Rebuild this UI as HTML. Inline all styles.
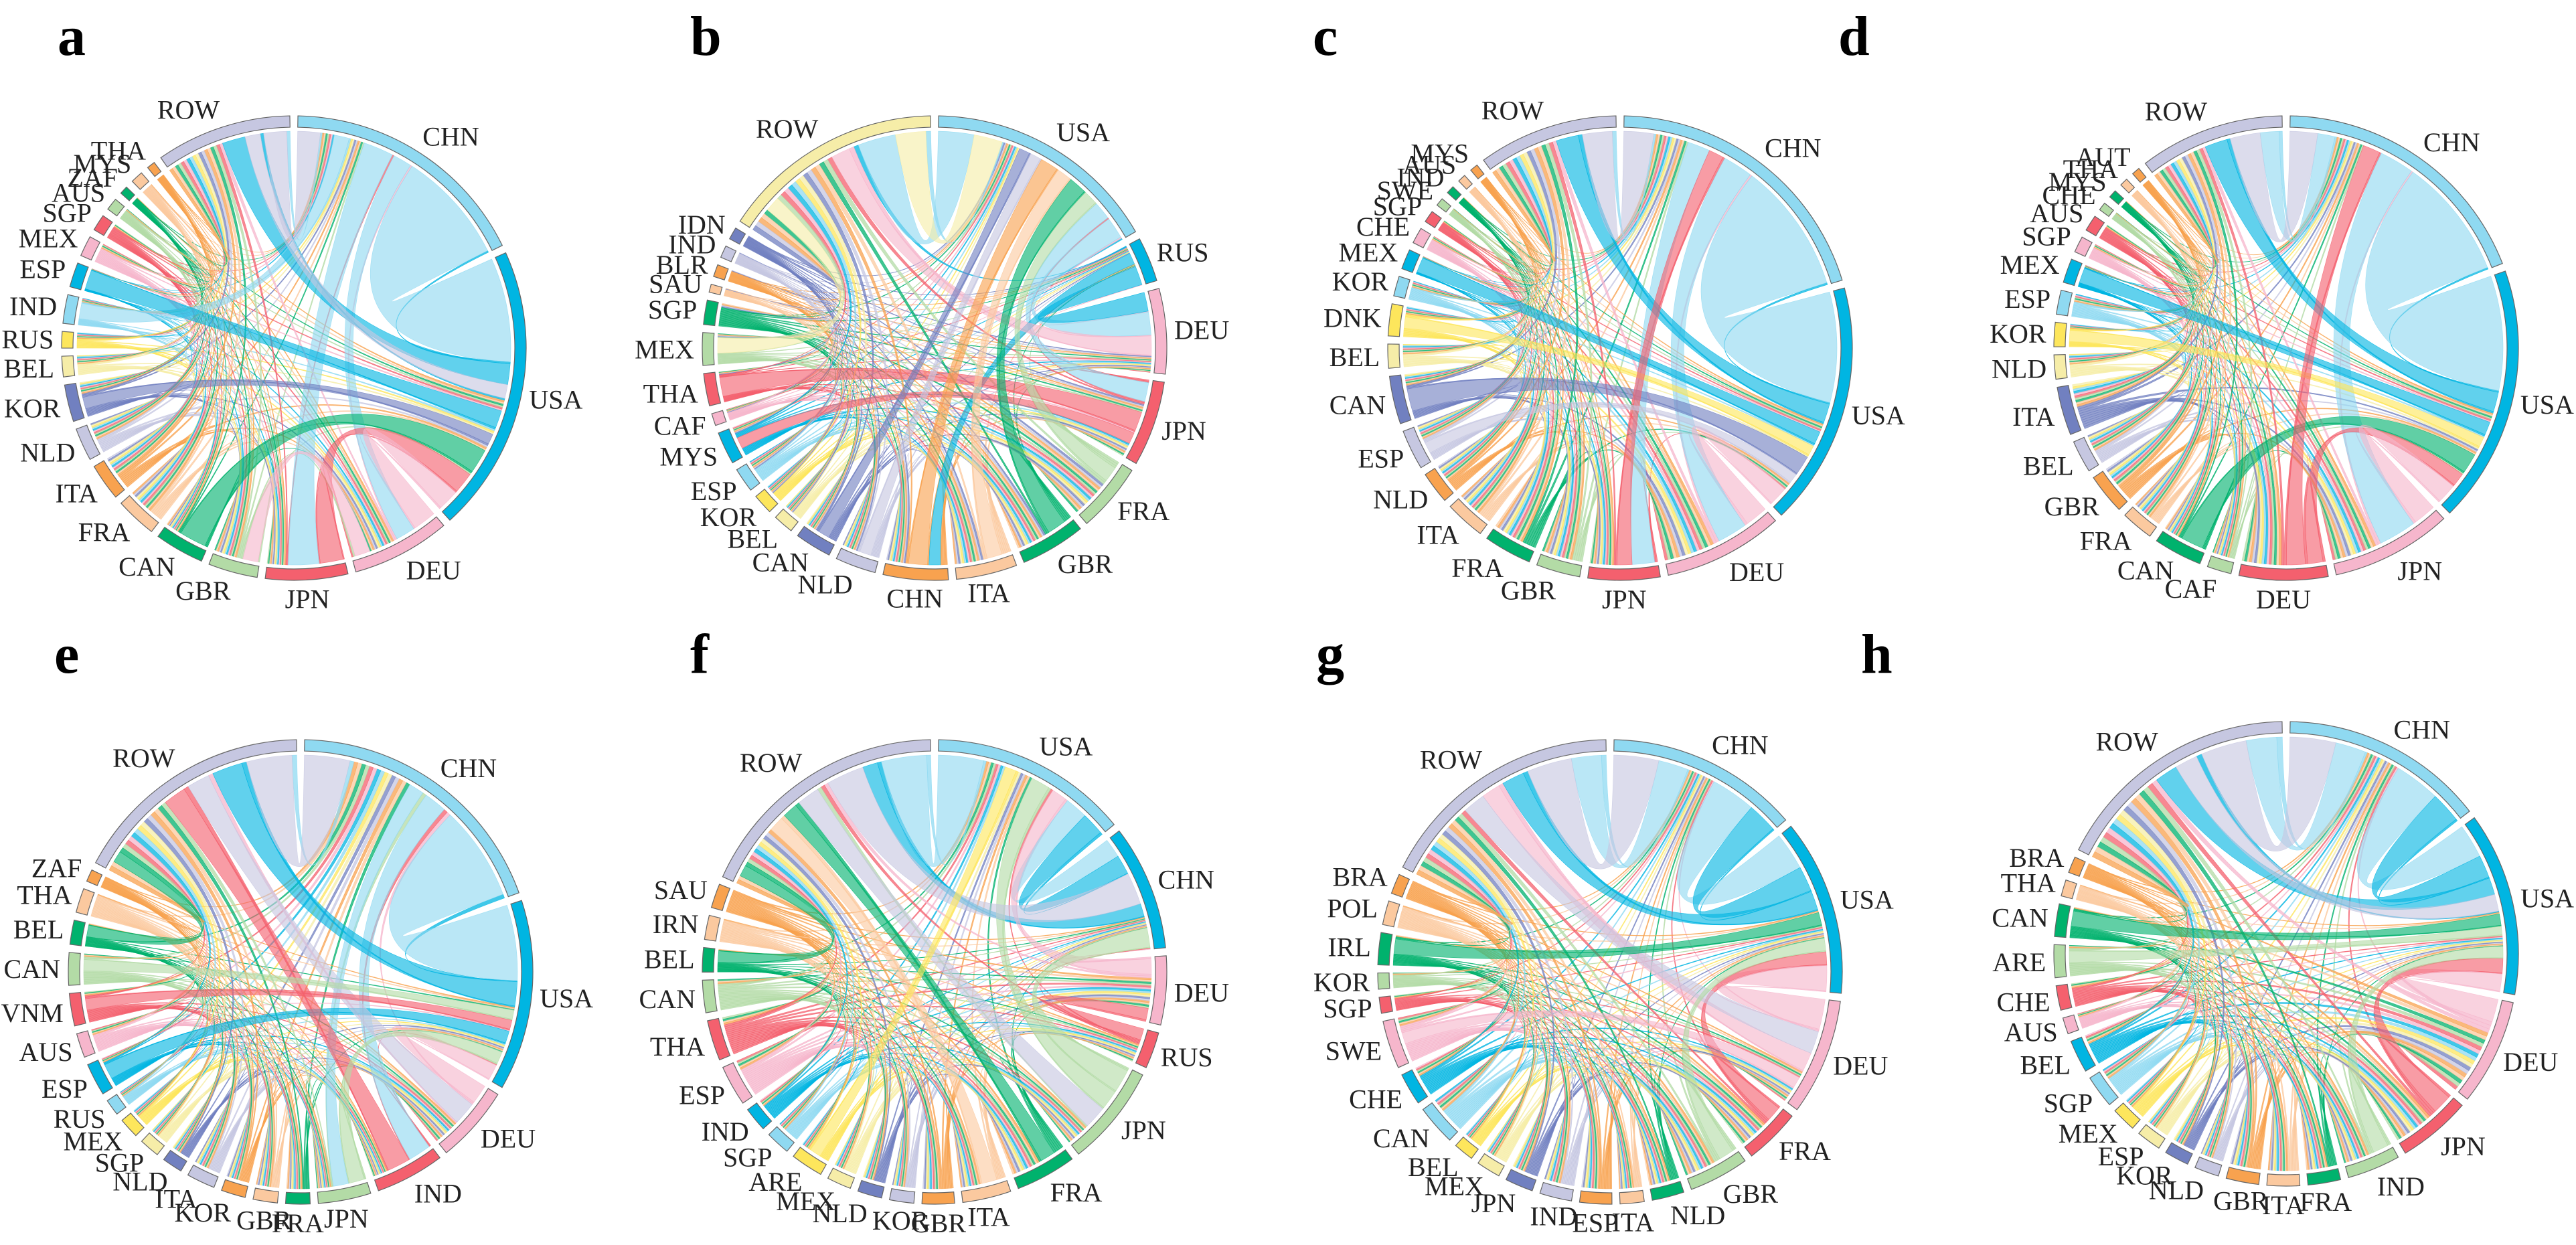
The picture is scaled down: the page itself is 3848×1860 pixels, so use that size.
<!DOCTYPE html>
<html><head><meta charset="utf-8">
<style>
html,body{margin:0;padding:0;background:#fff;}
svg{display:block;}
text{font-family:"Liberation Serif", serif;}
</style></head>
<body>
<svg id="fig" xmlns="http://www.w3.org/2000/svg" width="3848" height="1860" viewBox="0 0 3848 1860">
<rect x="0" y="0" width="3848" height="1860" fill="#fff"/>
<g style="font-family:'Liberation Serif', serif;font-weight:bold;font-size:84px" fill="#000">
<text x="86" y="82">a</text>
<text x="1031" y="82">b</text>
<text x="1961" y="82">c</text>
<text x="2746" y="82">d</text>
<text x="81" y="1005">e</text>
<text x="1031" y="1005">f</text>
<text x="1966" y="1005">g</text>
<text x="2780" y="1005">h</text>
</g>
</svg>
<script>
// ---- data: per panel node names, arc sizes, and major flows ----
const aNames = ['CHN','USA','DEU','JPN','GBR','CAN','FRA','ITA','NLD','KOR','BEL','RUS','IND','ESP','MEX','SGP','AUS','ZAF','MYS','THA','ROW'];
const aSizes = [61,70,24,20,12,12,10,9,8,9,5,4,7,6,5,4,3,2,3,2,33];
const aFlows = [['CHN','USA',30],['CHN','JPN',8],['CHN','IND',4],['CHN','DEU',5],['USA','ROW',6],['USA','ESP',5],['CAN','USA',7],['JPN','USA',6],['DEU','USA',6],['DEU','GBR',4],['ROW','CHN',6],['ROW','USA',4],['KOR','USA',3]];

const bNames = ['USA','RUS','DEU','JPN','FRA','GBR','ITA','CHN','NLD','CAN','BEL','KOR','ESP','MYS','CAF','THA','MEX','SGP','SAU','BLR','IND','IDN','ROW'];
const bSizes = [58,11,21,21,17,16,15,16,10,9,5,5,6,8,3,8,8,6,2,3,3,3,55];
const bFlows = [['USA','ROW',10],['USA','DEU',6],['USA','JPN',5],['RUS','DEU',5],['RUS','CHN',3],['DEU','ROW',5],['JPN','THA',5],['JPN','MYS',3],['GBR','USA',5],['CHN','USA',5],['ITA','USA',4],['ROW','USA',8],['ROW','MEX',4],['FRA','USA',4],['NLD','USA',3],['CAN','USA',3]];

const cNames = ['CHN','USA','DEU','JPN','GBR','FRA','ITA','NLD','ESP','CAN','BEL','DNK','KOR','MEX','CHE','SGP','SWE','IND','AUS','MYS','ROW'];
const cSizes = [72,61,30,18,11,12,10,8,10,12,6,8,5,5,4,3,2,2,2,2,35];
const cFlows = [['CHN','USA',35],['CHN','DEU',8],['CHN','JPN',6],['USA','ROW',6],['USA','MEX',4],['CAN','USA',6],['DEU','USA',6],['ROW','CHN',8],['DNK','USA',3],['JPN','CHN',4],['ESP','USA',3]];

const dNames = ['CHN','USA','JPN','DEU','CAF','CAN','FRA','GBR','BEL','ITA','NLD','KOR','ESP','MEX','SGP','AUS','CHE','MYS','THA','AUT','ROW'];
const dSizes = [67,64,30,22,6,12,8,10,8,12,6,6,6,6,4,4,2,2,2,2,36];
const dFlows = [['CHN','USA',35],['CHN','JPN',10],['CHN','ROW',5],['USA','ROW',6],['USA','MEX',4],['CAN','USA',6],['DEU','USA',4],['JPN','USA',6],['ROW','CHN',8],['KOR','USA',3],['DEU','CHN',5]];

const eNames = ['CHN','USA','DEU','IND','JPN','FRA','GBR','KOR','ITA','NLD','SGP','MEX','RUS','ESP','AUS','VNM','CAN','BEL','THA','ZAF','ROW'];
const eSizes = [68,47,19,17,13,6,6,6,7,5,5,5,4,8,6,8,8,6,6,3,60];
const eFlows = [['CHN','USA',25],['CHN','IND',6],['CHN','JPN',4],['USA','ROW',8],['USA','ESP',4],['ROW','CHN',12],['ROW','DEU',6],['IND','ROW',6],['DEU','USA',5],['JPN','USA',4],['BEL','ROW',3],['VNM','USA',3],['CAN','USA',3]];

const fNames = ['USA','CHN','DEU','RUS','JPN','FRA','ITA','GBR','KOR','NLD','MEX','ARE','SGP','IND','ESP','THA','CAN','BEL','IRN','SAU','ROW'];
const fSizes = [49,31,17,9,25,15,12,8,6,6,6,8,6,6,10,10,8,6,6,6,64];
const fFlows = [['USA','ROW',12],['USA','CHN',6],['CHN','ROW',4],['CHN','USA',6],['DEU','USA',4],['JPN','CHN',6],['JPN','USA',5],['RUS','DEU',3],['ROW','CHN',10],['ROW','JPN',6],['FRA','ROW',4],['ITA','ROW',4],['ARE','USA',3],['BEL','ROW',3]];

const gNames = ['CHN','USA','DEU','FRA','GBR','NLD','ITA','ESP','IND','JPN','MEX','BEL','CAN','CHE','SWE','SGP','KOR','IRL','POL','BRA','ROW'];
const gSizes = [48,44,29,14,15,8,6,8,8,7,6,5,10,8,12,4,4,8,6,5,62];
const gFlows = [['CHN','USA',12],['CHN','ROW',8],['USA','CHN',8],['USA','ROW',6],['DEU','USA',8],['DEU','ROW',5],['FRA','USA',4],['ROW','CHN',12],['ROW','DEU',6],['IRL','USA',4],['SWE','DEU',3],['GBR','USA',4]];

const hNames = ['CHN','USA','DEU','JPN','IND','FRA','ITA','GBR','NLD','KOR','ESP','MEX','SGP','BEL','AUS','CHE','ARE','CAN','THA','BRA','ROW'];
const hSizes = [50,45,26,18,13,8,8,8,6,6,6,6,8,8,4,6,8,8,4,4,61];
const hFlows = [['CHN','USA',12],['CHN','ROW',8],['USA','CHN',8],['USA','ROW',6],['DEU','USA',6],['JPN','USA',5],['IND','USA',4],['ROW','CHN',12],['ROW','USA',6],['CAN','USA',4],['ARE','USA',3]];

const palette = ['#8fd9f1','#00b5e2','#f6b6cc','#f4606e','#b3dba6','#00b26d','#fbc99f','#f8a24f','#c6c7e1','#7180c0','#f6eda8','#fde65c'];

const NS = 'http://www.w3.org/2000/svg';
const svg = document.getElementById('fig');
const R1 = 347, R0 = 330, RC = 324;

function pt(cx, cy, r, t){ const a = t*Math.PI/180; return [cx + r*Math.sin(a), cy - r*Math.cos(a)]; }
function f(p){ return p[0].toFixed(2)+' '+p[1].toFixed(2); }

function drawPanel(id, cx, cy, names, sizes, flows, rowColor){
  const g = document.createElementNS(NS,'g');
  
  
  svg.appendChild(g);
  const n = names.length, gap = 2;
  const total = sizes.reduce((s,v)=>s+v,0);
  const k = (360 - gap*n)/total;
  const st = [], en = [], mid = [], col = [];
  let t = gap/2;
  for(let i=0;i<n;i++){ st[i]=t; en[i]=t+sizes[i]*k; mid[i]=(st[i]+en[i])/2; t=en[i]+gap;
    col[i] = names[i]==='ROW' ? rowColor : palette[i%12]; }
  const links = [], used = new Array(n).fill(0);
  flows.forEach(fl=>{
    const a = names.indexOf(fl[0]), b = names.indexOf(fl[1]);
    if(a<0||b<0) return;
    const w = fl[2]*k;
    links.push({a:a,b:b,wa:w,wb:w,c:a,major:true});
    used[a]+=w; used[b]+=w;
  });
  const per = [];
  for(let i=0;i<n;i++){ const L = sizes[i]*k; per[i] = Math.max(L-used[i], L*0.15)/(n-1); }
  for(let i=0;i<n;i++) for(let j=i+1;j<n;j++){
    const c = names[j]==='ROW' ? i : j;
    links.push({a:i,b:j,wa:per[i],wb:per[j],c:c,major:false});
  }
  const endsOf = [];
  for(let i=0;i<n;i++) endsOf.push([]);
  links.forEach(l=>{ endsOf[l.a].push({l:l,side:'a',other:l.b,w:l.wa}); endsOf[l.b].push({l:l,side:'b',other:l.a,w:l.wb}); });
  for(let i=0;i<n;i++){
    const E = endsOf[i];
    E.sort((p,q)=>(((mid[i]-mid[p.other])+360)%360)-(((mid[i]-mid[q.other])+360)%360) || (q.w-p.w));
    const sum = E.reduce((s,e)=>s+e.w,0);
    const L = en[i]-st[i];
    const sc = sum > L ? L/sum : 1;
    let pos = st[i] + (L - sum*sc)/2;
    E.forEach(e=>{ const w = e.w*sc; e.l[e.side+'1']=pos; e.l[e.side+'2']=pos+w; pos+=w; });
  }
  const order = links.filter(l=>!l.major).concat(links.filter(l=>l.major));
  order.forEach(l=>{
    const p = document.createElementNS(NS,'path');
    const la = (l.a2-l.a1)>180?1:0, lb=(l.b2-l.b1)>180?1:0;
    const d = 'M'+f(pt(cx,cy,RC,l.a1))+' A'+RC+' '+RC+' 0 '+la+' 1 '+f(pt(cx,cy,RC,l.a2))+
      ' Q'+cx+' '+cy+' '+f(pt(cx,cy,RC,l.b1))+' A'+RC+' '+RC+' 0 '+lb+' 1 '+f(pt(cx,cy,RC,l.b2))+
      ' Q'+cx+' '+cy+' '+f(pt(cx,cy,RC,l.a1))+' Z';
    p.setAttribute('d', d);
    p.setAttribute('fill', col[l.c]);
    p.setAttribute('fill-opacity', l.major ? '0.62' : '0.75');
    p.setAttribute('stroke', col[l.c]);
    p.setAttribute('stroke-width', '0.6');
    p.setAttribute('stroke-opacity', '0.8');
    
    
    g.appendChild(p);
  });
  for(let i=0;i<n;i++){
    const la = (en[i]-st[i])>180?1:0;
    const p = document.createElementNS(NS,'path');
    const d = 'M'+f(pt(cx,cy,R1,st[i]))+' A'+R1+' '+R1+' 0 '+la+' 1 '+f(pt(cx,cy,R1,en[i]))+
      ' L'+f(pt(cx,cy,R0,en[i]))+' A'+R0+' '+R0+' 0 '+la+' 0 '+f(pt(cx,cy,R0,st[i]))+' Z';
    p.setAttribute('d', d);
    p.setAttribute('fill', col[i]);
    p.setAttribute('stroke', '#666');
    p.setAttribute('stroke-width', '1.2');
    
    
    g.appendChild(p);
    const s = Math.sin(mid[i]*Math.PI/180), c = Math.cos(mid[i]*Math.PI/180);
    const q = pt(cx,cy,R1+12,mid[i]);
    const tx = document.createElementNS(NS,'text');
    tx.setAttribute('x', q[0].toFixed(1));
    tx.setAttribute('y', (q[1] + 14 - 16*c).toFixed(1));
    tx.setAttribute('text-anchor', s>0.25?'start':(s<-0.25?'end':'middle'));
    tx.setAttribute('style', "font-family:'Liberation Serif', serif;font-size:40px");
    tx.setAttribute('fill', '#222');
    tx.textContent = names[i];
    
    
    g.appendChild(tx);
  }
}

drawPanel('a', 439, 520, aNames, aSizes, aFlows, '#c6c7e1');
drawPanel('b', 1396, 520, bNames, bSizes, bFlows, '#f6eda8');
drawPanel('c', 2420, 520, cNames, cSizes, cFlows, '#c6c7e1');
drawPanel('d', 3415, 520, dNames, dSizes, dFlows, '#c6c7e1');
drawPanel('e', 449, 1452, eNames, eSizes, eFlows, '#c6c7e1');
drawPanel('f', 1396, 1452, fNames, fSizes, fFlows, '#c6c7e1');
drawPanel('g', 2405, 1452, gNames, gSizes, gFlows, '#c6c7e1');
drawPanel('h', 3415, 1425, hNames, hSizes, hFlows, '#c6c7e1');
</script>
</body></html>
